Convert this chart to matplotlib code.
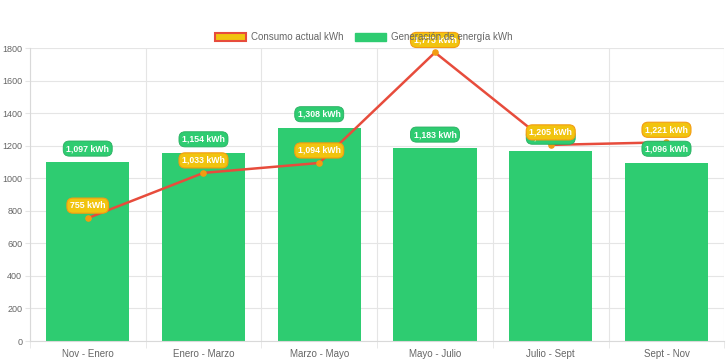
import matplotlib.pyplot as plt
from matplotlib.patches import Patch
from matplotlib.ticker import MultipleLocator, FixedLocator

plt.rcParams['font.family'] = ['Liberation Sans', 'DejaVu Sans']

periods = ["Nov - Enero", "Enero - Marzo", "Marzo - Mayo", "Mayo - Julio", "Julio - Sept", "Sept - Nov"]
generacion = [1097, 1154, 1308, 1183, 1170, 1096]
consumo = [755, 1033, 1094, 1773, 1205, 1221]

GREEN = "#2ecc71"
RED = "#e74c3c"
ORANGE = "#f39c12"
YELLOW = "#f1c40f"
TXT = "#666666"

fig = plt.figure(figsize=(7.28, 3.63), dpi=100)
ax = fig.add_axes([0.041, 0.0606, 0.954, 0.807])

x = list(range(len(periods)))
ax.bar(x, generacion, width=0.72, color=GREEN, zorder=2)
ax.plot(x, consumo, color=RED, lw=1.8, zorder=3)
ax.scatter(x, consumo, s=14, color=ORANGE, zorder=4)

# data labels
for xi, v in zip(x, generacion):
    ax.annotate(f"{v:,} kWh", (xi, v), xytext=(0, 10), textcoords="offset points",
                ha="center", va="center", fontsize=6.3, fontweight="bold", color="white",
                bbox=dict(boxstyle="round,pad=0.35,rounding_size=0.7", fc=GREEN, ec="#27ae60", lw=0.6),
                zorder=5)
for xi, v in zip(x, consumo):
    ax.annotate(f"{v:,} kWh", (xi, v), xytext=(0, 9), textcoords="offset points",
                ha="center", va="center", fontsize=6.3, fontweight="bold", color="white",
                bbox=dict(boxstyle="round,pad=0.35,rounding_size=0.7", fc=YELLOW, ec=ORANGE, lw=0.8),
                zorder=6, annotation_clip=False)

ax.set_xlim(-0.5, len(periods) - 0.5)
ax.set_ylim(0, 1800)
ax.yaxis.set_major_locator(MultipleLocator(200))
ax.set_xticks(x)
ax.set_xticklabels(periods)
ax.xaxis.set_minor_locator(FixedLocator([i - 0.5 for i in range(len(periods) + 1)]))
ax.tick_params(axis="x", which="major", labelsize=7, colors=TXT, length=0, pad=6)
ax.tick_params(axis="x", which="minor", length=5, color="#e5e5e5")
ax.tick_params(axis="y", which="major", labelsize=6.5, labelcolor=TXT, length=3.5,
               color="#e5e5e5", pad=2)

ax.grid(axis="y", color="#e5e5e5", lw=0.8, zorder=0)
ax.grid(axis="x", which="minor", color="#e5e5e5", lw=0.8, zorder=0)
for side in ["top", "right"]:
    ax.spines[side].set_visible(False)
for side in ["left", "bottom"]:
    ax.spines[side].set_color("#d9d9d9")
    ax.spines[side].set_linewidth(0.8)

handles = [Patch(facecolor=YELLOW, edgecolor=RED, linewidth=1.5, label="Consumo actual kWh"),
           Patch(facecolor=GREEN, edgecolor=GREEN, label="Generación de energía kWh")]
fig.legend(handles=handles, loc="center", bbox_to_anchor=(0.5, 0.898), ncol=2, frameon=False,
           fontsize=7, labelcolor=TXT, handlelength=3.2, handleheight=0.9, columnspacing=1.2,
           handletextpad=0.5)

fig.savefig("out.png", dpi=100)
